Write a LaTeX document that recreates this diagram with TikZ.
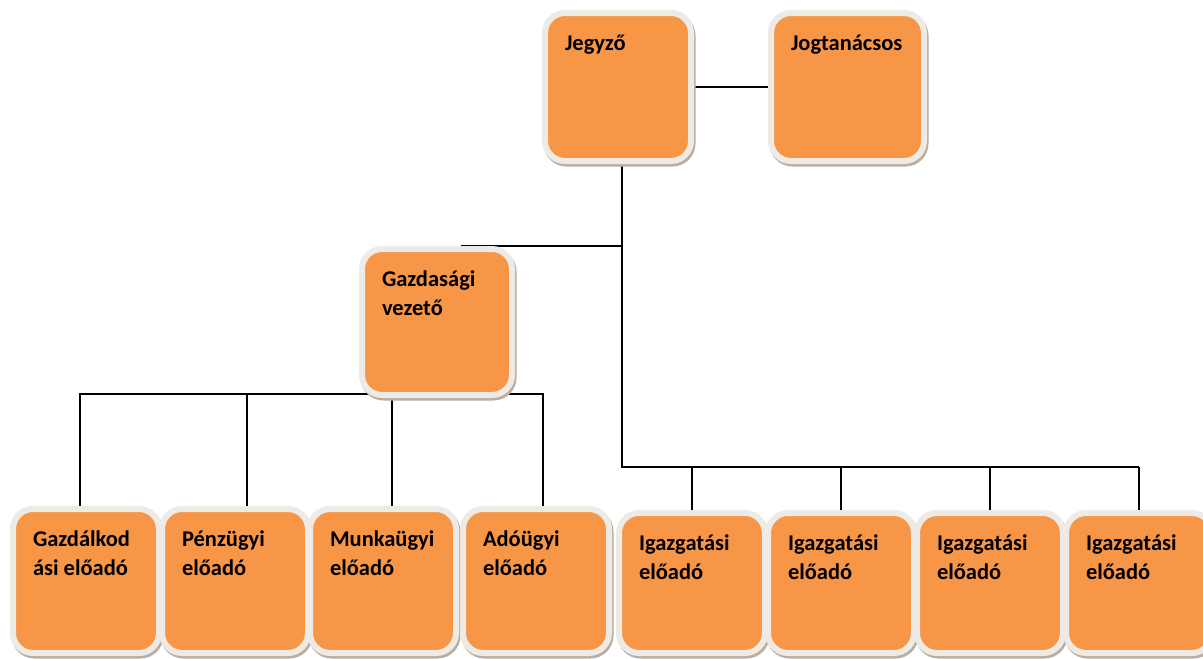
\documentclass[tikz,border=0pt]{standalone}
\usepackage{fontspec}
\setmainfont{Carlito}
\usetikzlibrary{backgrounds}
\definecolor{OrangeA}{HTML}{F79646}
\definecolor{RimA}{HTML}{EEEBE7}
\definecolor{ShadeA}{HTML}{BBAE9F}
\tikzset{
  box/.style={rounded corners=20pt, fill=OrangeA, draw=RimA, line width=6pt,
              preaction={draw=ShadeA, line width=6pt,
                         transform canvas={xshift=1.5pt, yshift=-2.5pt}},
              anchor=north west, align=flush left, inner xsep=20pt, inner ysep=6pt,
              text width=106pt, text height=31pt, text depth=105pt,
              font=\fontsize{22.5}{29}\selectfont\bfseries},
  low/.style={text depth=101pt},
  lowr/.style={text depth=97pt},
  lnk/.style={line width=1.8pt, draw=black},
}

\begin{document}
\begin{tikzpicture}[x=1pt, y=-1pt]
  \useasboundingbox (0,0) rectangle (1203,659);

  % ---- top level ----
  \node[box] (jegyzo) at (542,10) {Jegyző};
  \node[box, text width=113pt] (jogtan) at (768,10) {Jogtanácsos};
  \node[box, text width=110pt, text depth=103pt] (gv) at (359,246) {Gazdasági\\vezető};

  % ---- bottom row ----
  \node[box, low] (gdk) at (10,506)  {Gazdálkod\\ási előadó};
  \node[box, low] (pnz) at (159,506) {Pénzügyi\\előadó};
  \node[box, low] (mnk) at (307,506) {Munkaügyi\\előadó};
  \node[box, low] (ado) at (460,506) {Adóügyi\\előadó};
  \node[box, lowr] (ig1) at (616,510)  {Igazgatási\\előadó};
  \node[box, lowr] (ig2) at (765,510)  {Igazgatási\\előadó};
  \node[box, lowr] (ig3) at (914,510)  {Igazgatási\\előadó};
  \node[box, lowr] (ig4) at (1063,510) {Igazgatási\\előadó};

  \coordinate (busL) at (0,394);
  \coordinate (busR) at (0,467);
  \coordinate (jtap) at ([xshift=4pt]jegyzo.south);

  \begin{scope}[on background layer]
    \fill[white] (0,0) rectangle (1203,659);
    \draw[lnk] (jegyzo.east) -- (jogtan.west);
    \draw[lnk] (jtap) |- (ig4.north |- busR);
    \draw[lnk] ([xshift=24pt]gv.north) -- (gv.north -| jtap);
    \foreach \n in {ig1,ig2,ig3,ig4}
      \draw[lnk] (\n.north |- busR) -- (\n.north);
    % gazdasagi branch
    \draw[lnk] ([xshift=-6pt]gdk.north) |- ([xshift=7pt]ado.north |- busL)
               -- ([xshift=7pt]ado.north);
    \draw[lnk] ([xshift=12pt]pnz.north) -- ([xshift=12pt]pnz.north |- busL);
    \draw[lnk] ([xshift=-45pt]gv.south) -- ([xshift=9pt]mnk.north);
  \end{scope}
\end{tikzpicture}
\end{document}
